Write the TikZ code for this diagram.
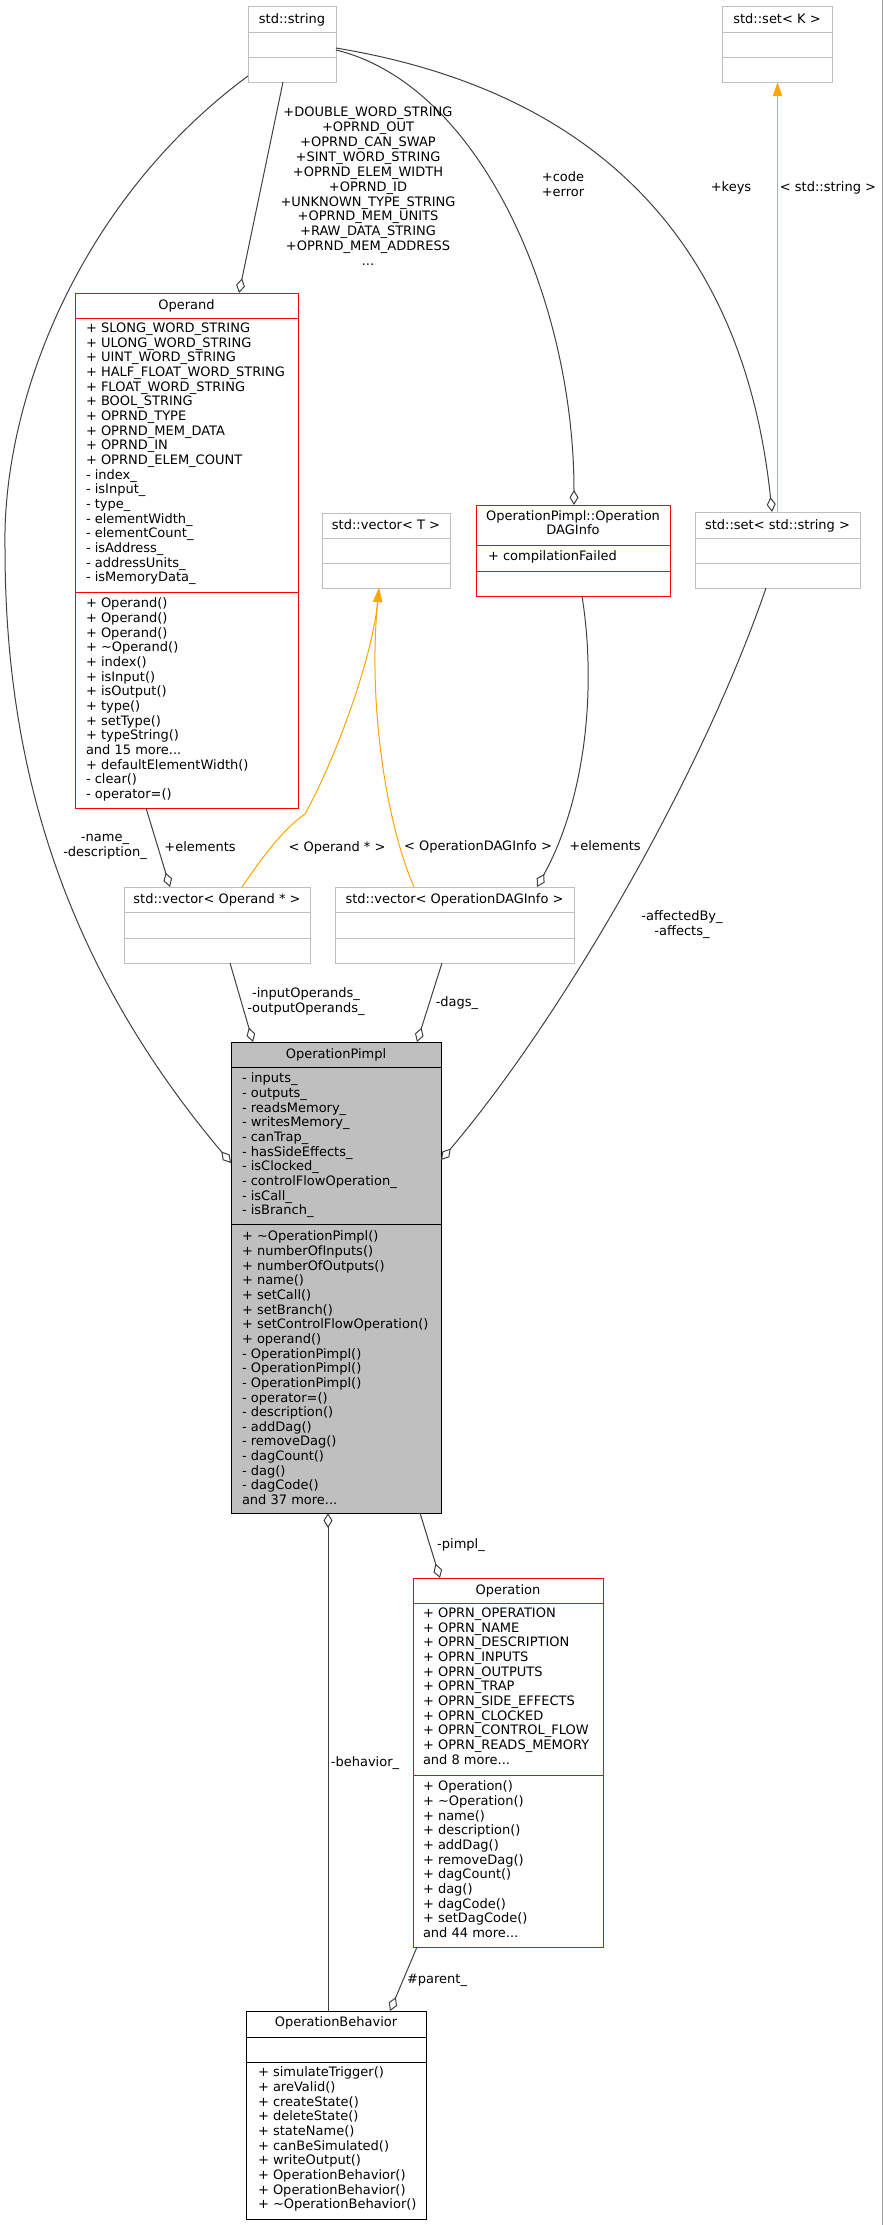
\documentclass[tikz,border=0pt]{standalone}
\usepackage{fontspec}
\setmainfont{DejaVu Sans}
\usetikzlibrary{arrows.meta}

\definecolor{edgegray}{RGB}{64,64,64}
\definecolor{boxgray}{RGB}{191,191,191}
\definecolor{tmplorange}{RGB}{255,165,0}
\newcommand{\mfont}{\fontsize{13}{14.65}\selectfont}
\newcommand{\lfont}{\fontsize{13}{14.9}\selectfont}

\begin{document}
\begin{tikzpicture}[x=1pt, y=-1pt,
	every node/.style={inner sep=0pt, outer sep=0pt},
	graybox/.style={draw=boxgray, line width=1pt, anchor=north west},
	redbox/.style={draw=red, line width=1pt, anchor=north west},
	blackbox/.style={draw=black, line width=1pt, anchor=north west},
	classname/.style={font=\mfont, text height=9.5pt, text depth=0pt},
	members/.style={font=\mfont, align=left, anchor=north west, execute at begin node=\strut},
	elabel/.style={font=\lfont, align=center, anchor=north, execute at begin node=\strut},
	agg/.style={draw=edgegray, line width=1pt, -{Diamond[open, length=15pt, width=9pt]}},
	tmpl/.style={draw=tmplorange, line width=1pt, -{Triangle[length=14pt, width=9pt]}}]

		\useasboundingbox (0,0) rectangle (883,2225);
		\draw[gray!80, line width=1pt] (882.5,0) -- (882.5,2225);

		% std::string
		\node[graybox, minimum width=88pt, minimum height=76pt] (str) at (248,6) {};
		\draw[boxgray, line width=1pt] ([yshift=-26pt]str.north west) -- ([yshift=-26pt]str.north east);
		\draw[boxgray, line width=1pt] ([yshift=-51pt]str.north west) -- ([yshift=-51pt]str.north east);
		\node[classname] at ([yshift=-12.5pt]str.north) {std::string};

		% std::set< K >
		\node[graybox, minimum width=110pt, minimum height=76pt] (setk) at (722,6) {};
		\draw[boxgray, line width=1pt] ([yshift=-26pt]setk.north west) -- ([yshift=-26pt]setk.north east);
		\draw[boxgray, line width=1pt] ([yshift=-51pt]setk.north west) -- ([yshift=-51pt]setk.north east);
		\node[classname] at ([yshift=-12.5pt]setk.north) {std::set< K >};

		% Operand
		\node[redbox, minimum width=223pt, minimum height=515pt] (operand) at (75,293) {};
		\draw[red, line width=1pt] ([yshift=-25pt]operand.north west) -- ([yshift=-25pt]operand.north east);
		\draw[red, line width=1pt] ([yshift=-299pt]operand.north west) -- ([yshift=-299pt]operand.north east);
		\node[classname] at ([yshift=-12pt]operand.north) {Operand};
		\node[members] (operand-attr) at ([xshift=11pt, yshift=-30pt]operand.north west) {+ SLONG\_WORD\_STRING\\+ ULONG\_WORD\_STRING\\+ UINT\_WORD\_STRING\\+ HALF\_FLOAT\_WORD\_STRING\\+ FLOAT\_WORD\_STRING\\+ BOOL\_STRING\\+ OPRND\_TYPE\\+ OPRND\_MEM\_DATA\\+ OPRND\_IN\\+ OPRND\_ELEM\_COUNT\\- index\_\\- isInput\_\\- type\_\\- elementWidth\_\\- elementCount\_\\- isAddress\_\\- addressUnits\_\\- isMemoryData\_};
		\node[members] (operand-ops) at ([xshift=11pt, yshift=-305pt]operand.north west) {+ Operand()\\+ Operand()\\+ Operand()\\+ \textasciitilde Operand()\\+ index()\\+ isInput()\\+ isOutput()\\+ type()\\+ setType()\\+ typeString()\\and 15 more...\\+ defaultElementWidth()\\- clear()\\- operator=()};

		% std::vector< T >
		\node[graybox, minimum width=128pt, minimum height=75pt] (vect) at (322,513) {};
		\draw[boxgray, line width=1pt] ([yshift=-25pt]vect.north west) -- ([yshift=-25pt]vect.north east);
		\draw[boxgray, line width=1pt] ([yshift=-50pt]vect.north west) -- ([yshift=-50pt]vect.north east);
		\node[classname] at ([yshift=-12pt]vect.north) {std::vector< T >};

		% OperationPimpl::OperationDAGInfo
		\node[redbox, minimum width=194pt, minimum height=91pt] (daginfo) at (476,505) {};
		\draw[red, line width=1pt] ([yshift=-40pt]daginfo.north west) -- ([yshift=-40pt]daginfo.north east);
		\draw[red, line width=1pt] ([yshift=-66pt]daginfo.north west) -- ([yshift=-66pt]daginfo.north east);
		\node[elabel, font=\fontsize{13}{14}\selectfont] at ([yshift=-6pt]daginfo.north) {OperationPimpl::Operation\\DAGInfo};
		\node[members] (daginfo-attr) at ([xshift=12pt, yshift=-45pt]daginfo.north west) {+ compilationFailed};

		% std::set< std::string >
		\node[graybox, minimum width=165pt, minimum height=76pt] (sstr) at (695,512) {};
		\draw[boxgray, line width=1pt] ([yshift=-26pt]sstr.north west) -- ([yshift=-26pt]sstr.north east);
		\draw[boxgray, line width=1pt] ([yshift=-51pt]sstr.north west) -- ([yshift=-51pt]sstr.north east);
		\node[classname] at ([yshift=-12.5pt]sstr.north) {std::set< std::string >};

		% std::vector< Operand * >
		\node[graybox, minimum width=186pt, minimum height=76pt] (vecop) at (124,887) {};
		\draw[boxgray, line width=1pt] ([yshift=-25pt]vecop.north west) -- ([yshift=-25pt]vecop.north east);
		\draw[boxgray, line width=1pt] ([yshift=-51pt]vecop.north west) -- ([yshift=-51pt]vecop.north east);
		\node[classname] at ([yshift=-12pt]vecop.north) {std::vector< Operand * >};

		% std::vector< OperationDAGInfo >
		\node[graybox, minimum width=239pt, minimum height=76pt] (vecdag) at (335,887) {};
		\draw[boxgray, line width=1pt] ([yshift=-25pt]vecdag.north west) -- ([yshift=-25pt]vecdag.north east);
		\draw[boxgray, line width=1pt] ([yshift=-51pt]vecdag.north west) -- ([yshift=-51pt]vecdag.north east);
		\node[classname] at ([yshift=-12pt]vecdag.north) {std::vector< OperationDAGInfo >};

		% OperationPimpl
		\node[blackbox, fill=boxgray, minimum width=210pt, minimum height=471pt] (pimpl) at (231,1042) {};
		\draw[black, line width=1pt] ([yshift=-25pt]pimpl.north west) -- ([yshift=-25pt]pimpl.north east);
		\draw[black, line width=1pt] ([yshift=-182pt]pimpl.north west) -- ([yshift=-182pt]pimpl.north east);
		\node[classname] at ([yshift=-12pt]pimpl.north) {OperationPimpl};
		\node[members] (pimpl-attr) at ([xshift=11pt, yshift=-31pt]pimpl.north west) {- inputs\_\\- outputs\_\\- readsMemory\_\\- writesMemory\_\\- canTrap\_\\- hasSideEffects\_\\- isClocked\_\\- controlFlowOperation\_\\- isCall\_\\- isBranch\_};
		\node[members] (pimpl-ops) at ([xshift=11pt, yshift=-189pt]pimpl.north west) {+ \textasciitilde OperationPimpl()\\+ numberOfInputs()\\+ numberOfOutputs()\\+ name()\\+ setCall()\\+ setBranch()\\+ setControlFlowOperation()\\+ operand()\\- OperationPimpl()\\- OperationPimpl()\\- OperationPimpl()\\- operator=()\\- description()\\- addDag()\\- removeDag()\\- dagCount()\\- dag()\\- dagCode()\\and 37 more...};

		% Operation
		\node[redbox, minimum width=190pt, minimum height=369pt] (operation) at (413,1578) {};
		\draw[red, line width=1pt] ([yshift=-25pt]operation.north west) -- ([yshift=-25pt]operation.north east);
		\draw[red, line width=1pt] ([yshift=-197pt]operation.north west) -- ([yshift=-197pt]operation.north east);
		\node[classname] at ([yshift=-12pt]operation.north) {Operation};
		\node[members] (operation-attr) at ([xshift=10pt, yshift=-30pt]operation.north west) {+ OPRN\_OPERATION\\+ OPRN\_NAME\\+ OPRN\_DESCRIPTION\\+ OPRN\_INPUTS\\+ OPRN\_OUTPUTS\\+ OPRN\_TRAP\\+ OPRN\_SIDE\_EFFECTS\\+ OPRN\_CLOCKED\\+ OPRN\_CONTROL\_FLOW\\+ OPRN\_READS\_MEMORY\\and 8 more...};
		\node[members] (operation-ops) at ([xshift=10pt, yshift=-203pt]operation.north west) {+ Operation()\\+ \textasciitilde Operation()\\+ name()\\+ description()\\+ addDag()\\+ removeDag()\\+ dagCount()\\+ dag()\\+ dagCode()\\+ setDagCode()\\and 44 more...};

		% OperationBehavior
		\node[blackbox, minimum width=180pt, minimum height=208pt] (behavior) at (246,2011) {};
		\draw[black, line width=1pt] ([yshift=-26pt]behavior.north west) -- ([yshift=-26pt]behavior.north east);
		\draw[black, line width=1pt] ([yshift=-51pt]behavior.north west) -- ([yshift=-51pt]behavior.north east);
		\node[classname] at ([yshift=-11pt]behavior.north) {OperationBehavior};
		\node[members] (behavior-ops) at ([xshift=12pt, yshift=-56pt]behavior.north west) {+ simulateTrigger()\\+ areValid()\\+ createState()\\+ deleteState()\\+ stateName()\\+ canBeSimulated()\\+ writeOutput()\\+ OperationBehavior()\\+ OperationBehavior()\\+ \textasciitilde OperationBehavior()};

		% aggregations
		\draw[agg] ([yshift=6pt]str.south west) .. controls (80,200) and (2,400) .. (5,548) .. controls (5,760) and (60,960) .. ([yshift=114.5pt]pimpl.west);
		\draw[agg] ([xshift=-9pt]str.south) -- ([xshift=52.5pt]operand.north);
		\draw[agg] ([yshift=-6pt]str.east) .. controls (480,85) and (574,300) .. ([xshift=1pt]daginfo.north);
		\draw[agg] ([yshift=-4pt]str.east) .. controls (650,100) and (750,300) .. ([xshift=-5.5pt]sstr.north);
		\draw[agg] ([xshift=-40.5pt]operand.south) -- ([xshift=-47pt]vecop.north);
		\draw[agg] ([xshift=9pt]daginfo.south) .. controls (597,690) and (585,800) .. ([xshift=82.5pt]vecdag.north);
		\draw[agg] ([xshift=-11.5pt]sstr.south) .. controls (700,780) and (560,1020) .. ([yshift=117.5pt]pimpl.east);
		\draw[agg] ([xshift=13pt]vecop.south) -- ([xshift=-83pt]pimpl.north);
		\draw[agg] ([xshift=-12.5pt]vecdag.south) -- ([xshift=81pt]pimpl.north);
		\draw[agg] ([xshift=84pt]pimpl.south) -- ([xshift=-68pt]operation.north);
		\draw[agg] ([xshift=-8pt]behavior.north) -- ([xshift=-8pt]pimpl.south);
		\draw[agg] ([xshift=-91pt]operation.south) -- ([xshift=54pt]behavior.north);

		% template instances
		\draw[tmpl] (sstr.north) -- (sstr.north |- setk.south);
		\draw[tmpl] ([xshift=25pt]vecop.north) .. controls (262,858) and (282,830) .. (305,814) .. controls (335,760) and (372,660) .. ([xshift=-7pt]vect.south);
		\draw[tmpl] ([xshift=-40.5pt]vecdag.north) .. controls (385,820) and (368,700) .. ([xshift=-7pt]vect.south);

		% labels
		\node[elabel] (l-name) at (105,834) {-name\_\\-description\_};
		\node[elabel] (l-operand) at (368,107) {+DOUBLE\_WORD\_STRING\\+OPRND\_OUT\\+OPRND\_CAN\_SWAP\\+SINT\_WORD\_STRING\\+OPRND\_ELEM\_WIDTH\\+OPRND\_ID\\+UNKNOWN\_TYPE\_STRING\\+OPRND\_MEM\_UNITS\\+RAW\_DATA\_STRING\\+OPRND\_MEM\_ADDRESS\\...};
		\node[elabel] (l-code) at (563,172) {+code\\+error};
		\node[elabel] (l-keys) at (731,181) {+keys};
		\node[elabel] (l-setk) at (828,181) {< std::string >};
		\node[elabel] (l-elem1) at (200,841) {+elements};
		\node[elabel] (l-vecop) at (337,841) {< Operand * >};
		\node[elabel] (l-vecdag) at (478,840) {< OperationDAGInfo >};
		\node[elabel] (l-elem2) at (605,840) {+elements};
		\node[elabel] (l-affect) at (682,911) {-affectedBy\_\\-affects\_};
		\node[elabel] (l-inout) at (306,988) {-inputOperands\_\\-outputOperands\_};
		\node[elabel] (l-dags) at (457,996) {-dags\_};
		\node[elabel] (l-pimpl) at (461,1538) {-pimpl\_};
		\node[elabel] (l-behav) at (365,1756) {-behavior\_};
		\node[elabel] (l-parent) at (437,1973) {\#parent\_};

	\end{tikzpicture}
\end{document}
